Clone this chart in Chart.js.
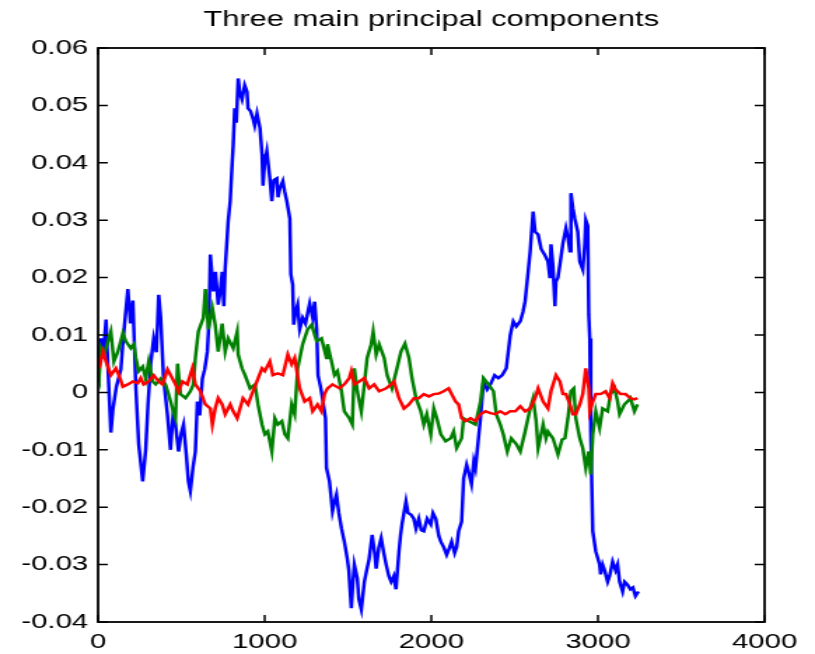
<!DOCTYPE html>
<html>
<head>
<meta charset="utf-8">
<script src="https://cdn.jsdelivr.net/npm/chart.js@4.4.1/dist/chart.umd.min.js"></script>
<style>
  html, body { margin: 0; padding: 0; background: #fff; }
  #wrap { width: 815px; height: 654px; overflow: hidden; }
  /* the figure is drawn narrow and widened, like the exported plot */
  #pcs { display: block; transform: scaleX(1.4003); transform-origin: 0 0; }
</style>
</head>
<body>
<div id="wrap"><canvas id="pcs" width="582" height="654"></canvas></div>
<script>
const xTicks = [0, 1000, 2000, 3000, 4000];
const yTicks = [-0.04, -0.03, -0.02, -0.01, 0, 0.01, 0.02, 0.03, 0.04, 0.05, 0.06];

// first component
const blueX = [0, 18, 30, 48, 60, 77, 89, 110, 137, 150, 179, 195, 209, 227, 244, 268, 286, 300, 316, 334,
  350, 364, 376, 393, 417, 435, 450, 465, 483, 500, 513, 530, 542, 554, 570, 584, 596, 610, 626, 640,
  656, 665, 674, 692, 705, 721, 735, 745, 755, 763, 781, 793, 805, 811, 820, 830, 841, 852, 864, 880,
  894, 900, 915, 930, 940, 954, 972, 984, 990, 1000, 1013, 1031, 1043, 1055, 1073, 1080, 1091, 1109, 1120, 1133,
  1151, 1157, 1168, 1174, 1185, 1198, 1210, 1228, 1245, 1270, 1288, 1300, 1312, 1320, 1335, 1347, 1365, 1371, 1389, 1407,
  1420, 1431, 1445, 1461, 1478, 1496, 1505, 1520, 1530, 1538, 1556, 1565, 1580, 1598, 1612, 1627, 1645, 1660, 1669, 1685,
  1699, 1715, 1729, 1745, 1759, 1775, 1788, 1806, 1815, 1824, 1848, 1860, 1878, 1895, 1908, 1925, 1940, 1955, 1975, 1997,
  2010, 2027, 2045, 2057, 2075, 2092, 2110, 2122, 2140, 2152, 2164, 2182, 2194, 2212, 2225, 2241, 2255, 2265, 2283, 2295,
  2313, 2335, 2355, 2380, 2402, 2425, 2450, 2474, 2492, 2510, 2534, 2550, 2563, 2581, 2593, 2611, 2623, 2641, 2659, 2680,
  2700, 2712, 2718, 2730, 2742, 2748, 2760, 2772, 2790, 2808, 2820, 2832, 2838, 2850, 2861, 2879, 2891, 2909, 2921, 2927,
  2939, 2945, 2951, 2957, 2963, 2969, 2987, 3010, 3016, 3028, 3040, 3058, 3070, 3088, 3106, 3118, 3130, 3148, 3160, 3177,
  3195, 3210, 3225, 3243];
const blueY = [0.005, 0.0094, 0.006, 0.0127, 0.004, -0.007, -0.003, 0.001, 0.004, 0.009, 0.018, 0.012, 0.016, 0.0007, -0.009, -0.0155, -0.010, -0.002, 0.005, 0.0094,
  0.007, 0.017, 0.013, 0.0025, -0.004, -0.010, -0.004, -0.0056, -0.0103, -0.007, -0.0056, -0.011, -0.0155, -0.0172, -0.013, -0.0103, -0.0016, -0.004, 0.0024, 0.004,
  0.0071, 0.012, 0.024, 0.0176, 0.021, 0.0153, 0.018, 0.021, 0.015, 0.0216, 0.0298, 0.0333, 0.040, 0.043, 0.0495, 0.047, 0.0547, 0.052, 0.051, 0.0535,
  0.0524, 0.0495, 0.049, 0.0477, 0.0465, 0.0486, 0.046, 0.0415, 0.036, 0.040, 0.042, 0.0373, 0.0333, 0.037, 0.0373, 0.034, 0.0355, 0.0368, 0.035, 0.0333,
  0.0303, 0.0206, 0.0188, 0.0118, 0.014, 0.0153, 0.011, 0.013, 0.012, 0.0155, 0.013, 0.0158, 0.011, 0.003, 0.001, -0.001, -0.0045, -0.0132, -0.0155, -0.0207,
  -0.019, -0.0178, -0.021, -0.0237, -0.026, -0.029, -0.031, -0.0376, -0.033, -0.030, -0.0324, -0.036, -0.0378, -0.033, -0.031, -0.029, -0.0248, -0.028, -0.0307, -0.027,
  -0.0254, -0.028, -0.030, -0.032, -0.033, -0.032, -0.0343, -0.0277, -0.025, -0.023, -0.019, -0.021, -0.0213, -0.022, -0.0237, -0.022, -0.024, -0.0242, -0.022, -0.023,
  -0.021, -0.022, -0.025, -0.026, -0.027, -0.0283, -0.027, -0.026, -0.028, -0.027, -0.0242, -0.0225, -0.015, -0.0126, -0.014, -0.016, -0.012, -0.0132, -0.008, -0.0045,
  0.0019, 0.0005, 0.0014, 0.003, 0.0025, 0.003, 0.0042, 0.010, 0.0124, 0.0115, 0.0124, 0.014, 0.0159, 0.021, 0.0245, 0.0315, 0.028, 0.0275, 0.025, 0.024,
  0.0228, 0.0199, 0.0258, 0.022, 0.015, 0.0193, 0.020, 0.0223, 0.026, 0.0286, 0.027, 0.0246, 0.0347, 0.032, 0.0303, 0.028, 0.0228, 0.0214, 0.0258, 0.030,
  0.029, 0.0135, 0.0094, -0.0068, -0.016, -0.0242, -0.0277, -0.030, -0.0317, -0.030, -0.031, -0.033, -0.032, -0.0295, -0.031, -0.030, -0.033, -0.0347, -0.033, -0.0335,
  -0.0343, -0.034, -0.0355, -0.0347];

// second component
const greenX = [0, 6, 18, 36, 77, 95, 119, 149, 167, 197, 215, 227, 244, 268, 286, 304, 328, 346, 376, 405,
  423, 447, 465, 477, 495, 525, 554, 572, 584, 602, 632, 644, 662, 686, 703, 721, 745, 763, 781, 811,
  835, 841, 864, 882, 912, 942, 960, 984, 1001, 1019, 1043, 1061, 1079, 1103, 1121, 1139, 1162, 1180, 1198, 1228,
  1258, 1282, 1312, 1341, 1371, 1377, 1401, 1419, 1437, 1461, 1478, 1508, 1526, 1538, 1556, 1580, 1598, 1615, 1639, 1651,
  1669, 1687, 1717, 1735, 1764, 1794, 1818, 1842, 1866, 1884, 1908, 1937, 1955, 1973, 1997, 2015, 2033, 2057, 2086, 2116,
  2134, 2152, 2182, 2194, 2223, 2265, 2295, 2313, 2343, 2373, 2390, 2414, 2432, 2456, 2480, 2510, 2534, 2563, 2593, 2611,
  2629, 2641, 2671, 2688, 2700, 2730, 2760, 2785, 2802, 2820, 2838, 2855, 2867, 2891, 2909, 2927, 2945, 2957, 2969, 2987,
  3010, 3028, 3058, 3076, 3100, 3118, 3130, 3159, 3177, 3195, 3219, 3237];
const greenY = [0.003, 0.0024, 0.0077, 0.0066, 0.0106, 0.0054, 0.0071, 0.0103, 0.0089, 0.0077, 0.0084, 0.006, 0.0037, 0.0045, 0.0024, 0.0054, 0.0019, 0.0014, 0.0024, 0.0014,
  -0.0003, -0.0028, -0.0045, 0.005, -0.0003, -0.001, 0.0002, 0.0014, 0.006, 0.0106, 0.013, 0.018, 0.011, 0.0147, 0.0118, 0.0071, 0.012, 0.0071, 0.0094, 0.0077,
  0.0106, 0.0066, 0.0042, 0.003, 0.0007, 0.0014, -0.0021, -0.0056, -0.0073, -0.0068, -0.0103, -0.0045, -0.0056, -0.005, -0.0073, -0.008, -0.0021, -0.0038, 0.0042, 0.0084,
  0.011, 0.0118, 0.0089, 0.0094, 0.006, 0.0084, 0.0054, 0.003, 0.0037, 0.0002, -0.0033, -0.0045, -0.0056, 0.0042, 0.0002, -0.0033, 0.0014, 0.006, 0.0084, 0.0106,
  0.0066, 0.0084, 0.006, 0.003, 0.0007, 0.0042, 0.0071, 0.0085, 0.006, 0.0025, -0.001, -0.0033, -0.0056, -0.0038, -0.0073, -0.0028, -0.0045, -0.0073, -0.0085, -0.008,
  -0.0068, -0.0097, -0.008, -0.0045, -0.005, -0.0056, -0.0016, 0.0025, 0.0014, 0.0002, -0.0038, -0.0056, -0.0073, -0.0103, -0.008, -0.009, -0.0103, -0.0068, -0.0028, -0.001,
  -0.005, -0.0097, -0.0056, -0.008, -0.0068, -0.008, -0.0108, -0.0082, -0.008, -0.0045, 0.0002, 0.0007, -0.0045, -0.008, -0.0097, -0.0132, -0.0103, -0.0143, -0.0073, -0.0033,
  -0.0062, -0.0028, -0.0033, -0.0003, 0.0007, -0.0016, -0.0038, -0.0021, -0.0016, -0.001, -0.0033, -0.0021];

// third component
const redX = [0, 6, 30, 48, 77, 107, 125, 149, 179, 209, 238, 256, 274, 304, 334, 364, 387, 417, 447, 465,
  483, 507, 536, 566, 584, 614, 644, 674, 686, 703, 721, 745, 763, 793, 811, 835, 852, 870, 900, 930,
  960, 984, 1001, 1031, 1049, 1079, 1109, 1139, 1162, 1180, 1210, 1240, 1270, 1288, 1317, 1341, 1359, 1377, 1407, 1449,
  1478, 1508, 1520, 1538, 1568, 1598, 1627, 1657, 1687, 1729, 1759, 1776, 1806, 1836, 1866, 1896, 1925, 1955, 1985, 2015,
  2045, 2074, 2104, 2122, 2146, 2164, 2182, 2206, 2235, 2265, 2295, 2325, 2355, 2384, 2414, 2444, 2474, 2504, 2534, 2563,
  2593, 2623, 2641, 2671, 2700, 2718, 2748, 2772, 2790, 2808, 2832, 2850, 2867, 2891, 2909, 2927, 2945, 2951, 2969, 2987,
  3016, 3046, 3070, 3088, 3106, 3136, 3165, 3195, 3219, 3237];
const redY = [0.006, 0.0042, 0.0071, 0.0054, 0.003, 0.0042, 0.003, 0.001, 0.0014, 0.0019, 0.0016, 0.0025, 0.0014, 0.0019, 0.003, 0.0019, 0.0014, 0.004, 0.0024, 0.0014,
  0.0002, 0.0019, 0.0014, 0.0042, 0.0014, 0.0002, -0.0021, -0.0028, -0.0056, -0.0028, -0.001, -0.0021, -0.0038, -0.0021, -0.0033, -0.0045, -0.0028, -0.001, -0.0021, 0.0002,
  0.0024, 0.0042, 0.0037, 0.0054, 0.003, 0.0033, 0.003, 0.0066, 0.0049, 0.006, 0.0007, -0.0016, -0.001, -0.0033, -0.0021, -0.0033, -0.0003, 0.0007, 0.0014, 0.0007,
  0.0014, 0.0025, 0.0037, 0.0014, 0.0019, 0.0025, 0.0007, 0.0014, 0.0002, 0.0007, 0.0014, 0.0019, -0.001, -0.0028, -0.0021, -0.001, -0.001, -0.0003, -0.0007, -0.0003,
  -0.0002, 0.0002, 0.0007, -0.0003, -0.0016, -0.0021, -0.0045, -0.005, -0.0045, -0.005, -0.0038, -0.0033, -0.0036, -0.0038, -0.0033, -0.0038, -0.0033, -0.0033, -0.0024, -0.0033,
  -0.0028, -0.001, 0.0007, -0.0016, -0.0028, 0.0002, 0.003, 0.0019, -0.0003, -0.0003, -0.0021, -0.0038, -0.0038, -0.0021, -0.0003, 0.0042, 0.0007, -0.0033, -0.0016, -0.0003,
  -0.0003, 0.0002, -0.001, 0.0016, 0.0005, -0.0003, -0.0003, -0.001, -0.0012, -0.001];

let pcChart;

function toPoints(xs, ys) {
    return xs.map((x, i) => ({ x: x, y: ys[i] }));
}

// matlab-style box with inward ticks on all four sides
const axesBox = {
    id: 'axesBox',
    afterDatasetsDraw(chart) {
        const { ctx, chartArea: a, scales } = chart;
        ctx.save();
        ctx.strokeStyle = '#000';
        ctx.lineWidth = 1.8;
        ctx.strokeRect(a.left, a.top, a.right - a.left, a.bottom - a.top);
        ctx.lineWidth = 1.5;
        ctx.beginPath();
        xTicks.forEach(v => {
            const px = scales.x.getPixelForValue(v);
            ctx.moveTo(px, a.bottom); ctx.lineTo(px, a.bottom - 7);
            ctx.moveTo(px, a.top); ctx.lineTo(px, a.top + 7);
        });
        yTicks.forEach(v => {
            const py = scales.y.getPixelForValue(v);
            ctx.moveTo(a.left, py); ctx.lineTo(a.left + 7, py);
            ctx.moveTo(a.right, py); ctx.lineTo(a.right - 7, py);
        });
        ctx.stroke();
        ctx.restore();
    }
};

function drawComponents() {
    const line = (pts, color, order) => ({
        data: pts,
        borderColor: color,
        borderWidth: 2.5,
        borderJoinStyle: 'miter',
        pointRadius: 0,
        tension: 0,
        fill: false,
        order: order
    });

    const data = {
        datasets: [
            line(toPoints(blueX, blueY), '#0000ff', 3),
            line(toPoints(greenX, greenY), '#008000', 2),
            line(toPoints(redX, redY), '#ff0000', 1)
        ]
    };

    const tickFont = { family: "'Liberation Sans', Arial, sans-serif", size: 21 };

    const config = {
        type: 'line',
        data: data,
        plugins: [axesBox],
        options: {
            responsive: false,
            animation: false,
            devicePixelRatio: 1,
            layout: { padding: { left: 0, right: 36, top: 0, bottom: 0 } },
            plugins: {
                legend: { display: false },
                tooltip: { enabled: false },
                title: {
                    display: true,
                    fullSize: false,
                    text: 'Three main principal components',
                    color: '#000',
                    font: { family: "'Liberation Sans', Arial, sans-serif", size: 22, weight: 'normal' },
                    padding: { top: 7, bottom: 14.6 }
                }
            },
            scales: {
                x: {
                    type: 'linear',
                    min: 0,
                    max: 4000,
                    afterFit: s => { s.height = 32; },
                    afterBuildTicks: s => { s.ticks = xTicks.map(v => ({ value: v })); },
                    grid: { drawOnChartArea: false, drawTicks: false },
                    border: { display: false },
                    ticks: { color: '#000', font: tickFont, padding: 8, maxRotation: 0, callback: v => String(v) }
                },
                y: {
                    type: 'linear',
                    min: -0.04,
                    max: 0.06,
                    afterFit: s => { s.width = 70; },
                    afterBuildTicks: s => { s.ticks = yTicks.map(v => ({ value: v })); },
                    grid: { drawOnChartArea: false, drawTicks: false },
                    border: { display: false },
                    ticks: { color: '#000', font: tickFont, padding: 7, callback: v => String(Math.round(v * 100) / 100) }
                }
            }
        }
    };

    pcChart = new Chart(document.getElementById('pcs'), config);
}

drawComponents();
</script>
</body>
</html>
